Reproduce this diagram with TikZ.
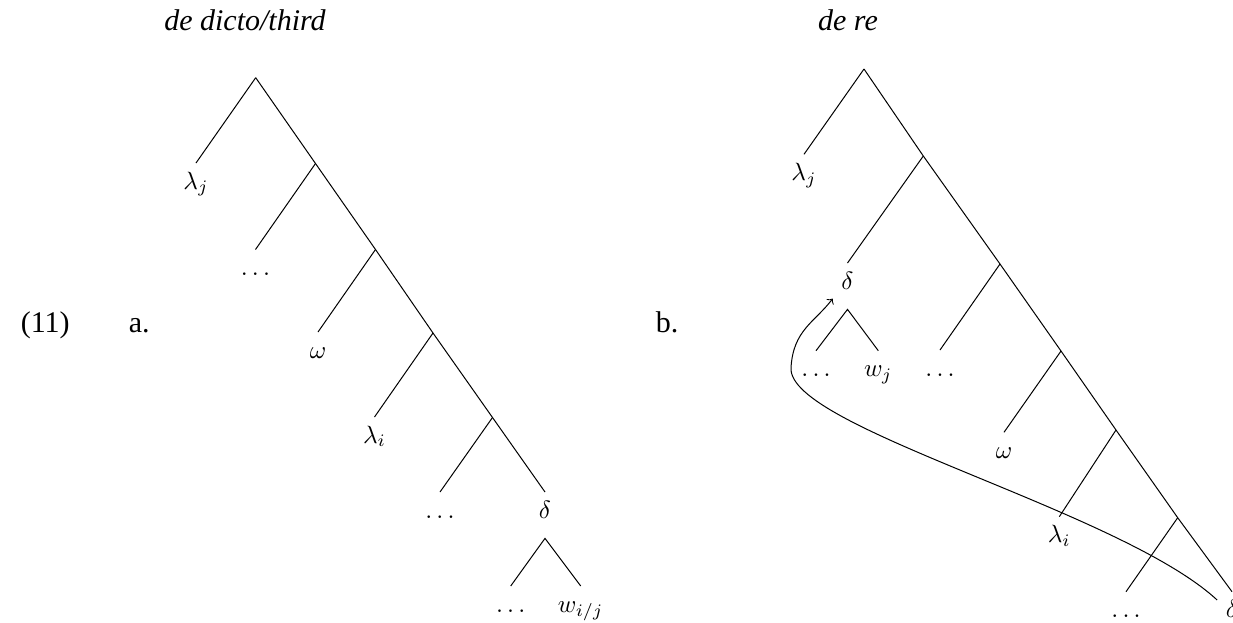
\documentclass[tikz,border=0pt]{standalone}
\usepackage{fontspec}
\setmainfont{Liberation Serif}
\tikzset{
  lbl/.style={anchor=north, text height=1.5ex, text depth=1ex},
  title/.style={font=\fontsize{12}{14}\selectfont\itshape, anchor=base},
  exnum/.style={font=\fontsize{12}{14}\selectfont, anchor=base west},
}
\begin{document}
\begin{tikzpicture}[x=0.4pt, y=-0.4pt]
  \useasboundingbox (0,0) rectangle (1233,622);

  % Beispielnummern und Titel
  \node[exnum] (num) at (12,332) {(11)};
  \node[exnum] (exa) at (120,332) {a.};
  \node[exnum] (exb) at (647,332) {b.};
  \node[title] (tdicto) at (245,30) {de dicto/third};
  \node[title] (tre) at (848,30) {de re};

  % Baum a (de dicto)
  \coordinate (a0) at (255.7,77.7);
  \coordinate (a1) at (315.5,163.5);
  \coordinate (a2) at (375.5,249.5);
  \coordinate (a3) at (433,333);
  \coordinate (a4) at (492.5,417.5);
  \node[lbl] (lja) at (196,163) {$\lambda_j$};
  \node[lbl] (dta) at (255.5,249.5) {$\ldots$};
  \node[lbl] (oma) at (318,332) {$\omega$};
  \node[lbl] (lia) at (374.5,417) {$\lambda_i$};
  \node[lbl] (dtb) at (440,492) {$\ldots$};
  \node[lbl] (dla) at (545,492) {$\delta$};
  \node[lbl] (dtc) at (510.7,586) {$\ldots$};
  \node[lbl] (wij) at (580.7,586) {$w_{i/j}$};
  \draw (a0) -- (lja.north);
  \draw (a0) -- (a1) -- (a2) -- (a3) -- (a4) -- (dla.north);
  \draw (a1) -- (dta.north);
  \draw (a2) -- (oma.north);
  \draw (a3) -- (lia.north);
  \draw (a4) -- (dtb.north);
  \draw (dtc.north) -- (dla.south) -- (wij.north);

  % Baum b (de re)
  \coordinate (b0) at (864,69);
  \coordinate (b1) at (923.3,156);
  \coordinate (b2) at (1000,264);
  \coordinate (b3) at (1061,351);
  \coordinate (b4) at (1116,430);
  \coordinate (b5) at (1177.7,517.7);
  \node[lbl] (ljb) at (804,154.3) {$\lambda_j$};
  \node[lbl] (dlb) at (847.5,263) {$\delta$};
  \node[lbl] (dtd) at (816,350.7) {$\ldots$};
  \node[lbl] (wj) at (878.3,350.7) {$w_j$};
  \node[lbl] (dte) at (940,350) {$\ldots$};
  \node[lbl] (omb) at (1004,432.3) {$\omega$};
  \node[lbl] (lib) at (1059.3,516.7) {$\lambda_i$};
  \node[lbl] (dtf) at (1126,591.7) {$\ldots$};
  \node[lbl] (dlc) at (1232,591.7) {$\delta$};
  \draw (b0) -- (ljb.north);
  \draw (b0) -- (b1) -- (b2) -- (b3) -- (b4) -- (b5) -- (dlc.north);
  \draw (b1) -- (dlb.north);
  \draw (b2) -- (dte.north);
  \draw (b3) -- (omb.north);
  \draw (b4) -- (lib.north);
  \draw (b5) -- (dtf.north);
  \draw (dtd.north) -- (dlb.south) -- (wj.north);

  % Bewegung
  \coordinate (turn) at (791,368);
  \draw[->] (dlc.135) .. controls (1120,510) and (788,428) .. (turn)
    .. controls (793,330) and (815,322) .. (dlb.-140);
\end{tikzpicture}
\end{document}
